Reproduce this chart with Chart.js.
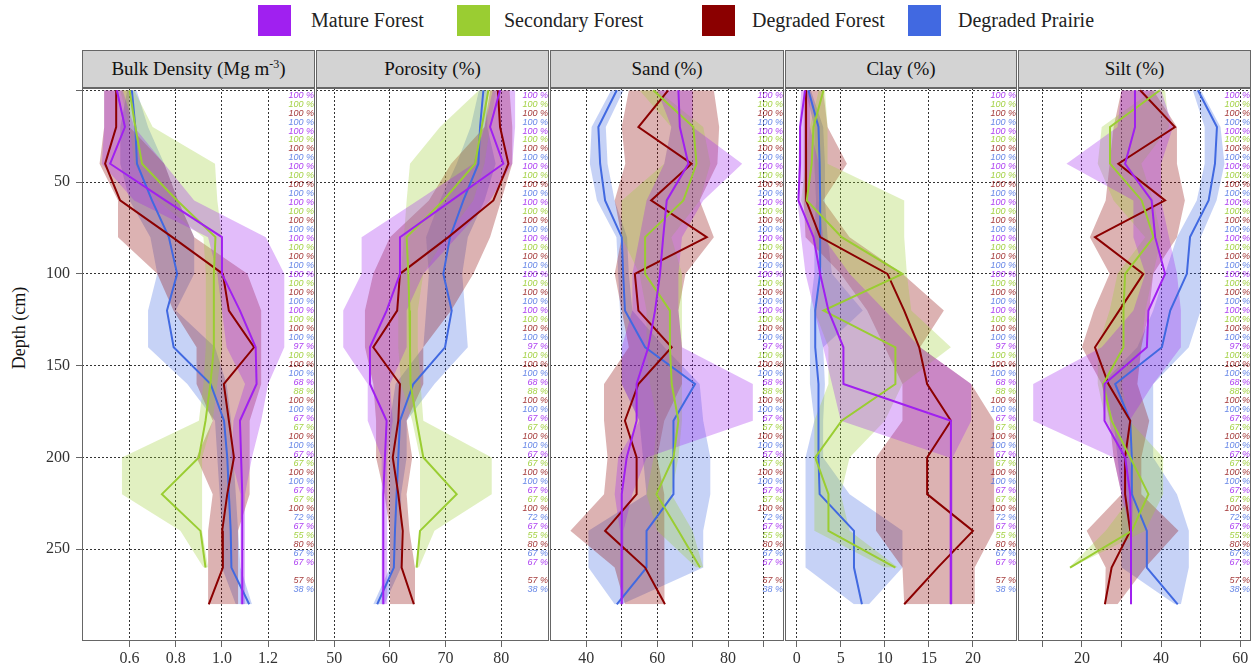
<!DOCTYPE html>
<html>
<head>
<meta charset="utf-8">
<script src="https://cdn.jsdelivr.net/npm/chart.js@4.4.1/dist/chart.umd.min.js"></script>
<style>
  body { margin: 0; width: 1255px; height: 672px; background: #fff; position: relative; overflow: hidden;
         font-family: "Liberation Serif", "Times New Roman", serif; }
  .swatch { position: absolute; top: 5px; width: 33px; height: 31px; }
  .legend-text { position: absolute; top: 7px; font-size: 20px; line-height: 26px; color: #222; white-space: nowrap; }
  .strip { position: absolute; top: 50px; height: 38px; background: #d3d3d3; border: 1px solid #666; box-sizing: border-box;
           text-align: center; line-height: 36px; font-size: 19px; color: #111; }
  .strip sup { font-size: 12px; line-height: 0; vertical-align: 7px; }
  canvas { position: absolute; top: 88px; }
  #ytitle { position: absolute; left: 19px; top: 328px; transform: translate(-50%, -50%) rotate(-90deg); font-size: 18px; white-space: nowrap; color: #111; }
</style>
</head>
<body>
<div class="swatch" style="left:258px;background:#A020F0"></div><div class="legend-text" style="left:311px">Mature Forest</div>
<div class="swatch" style="left:457px;background:#9ACD32"></div><div class="legend-text" style="left:504px">Secondary Forest</div>
<div class="swatch" style="left:702px;background:#8B0000"></div><div class="legend-text" style="left:752px">Degraded Forest</div>
<div class="swatch" style="left:908px;background:#4169E1"></div><div class="legend-text" style="left:958px">Degraded Prairie</div>

<div class="strip" style="left:82px;width:233px">Bulk Density (Mg m<sup>-3</sup>)</div>
<div class="strip" style="left:316px;width:233px">Porosity (%)</div>
<div class="strip" style="left:550px;width:234px">Sand (%)</div>
<div class="strip" style="left:785px;width:232px">Clay (%)</div>
<div class="strip" style="left:1018px;width:233px">Silt (%)</div>
<div id="ytitle">Depth (cm)</div>

<canvas id="c0" width="315" height="584" style="left:0px"></canvas>
<canvas id="c1" width="233" height="584" style="left:316px"></canvas>
<canvas id="c2" width="234" height="584" style="left:550px"></canvas>
<canvas id="c3" width="232" height="584" style="left:785px"></canvas>
<canvas id="c4" width="233" height="584" style="left:1018px"></canvas>

<script>
// depths (cm) of every profile point
const depths = [0, 20, 40, 60, 80, 100, 120, 140, 160, 180, 200, 220, 240, 260, 280];
const depthTicks = [0, 50, 100, 150, 200, 250];

const seriesNames = ["Mature Forest", "Secondary Forest", "Degraded Forest", "Degraded Prairie"];
const seriesColors = ["#A020F0", "#9ACD32", "#8B0000", "#4169E1"];
const bandColors = ["rgba(160,32,240,0.3)", "rgba(154,205,50,0.3)", "rgba(139,0,0,0.3)", "rgba(65,105,225,0.3)"];
const labelColors = ["rgba(160,32,240,0.85)", "rgba(154,205,50,0.9)", "rgba(139,0,0,0.8)", "rgba(65,105,225,0.8)"];

// Bulk density (Mg m-3)
const bdMF   = [0.545, 0.58, 0.516, 0.755, 1.0, 1.0, 1.078, 1.146, 1.15, 1.078, 1.083, 1.088, 1.088, 1.088, 1.088];
const bdMFlo = [0.49, 0.49, 0.48, 0.62, 0.94, 0.98, 1.0, 1.02, 1.1, 1.05, 1.04, 1.08, 1.08, 1.08, 1.08];
const bdMFhi = [0.57, 0.62, 0.75, 0.88, 1.19, 1.27, 1.27, 1.27, 1.2, 1.17, 1.13, 1.1, 1.1, 1.1, 1.1];
const bdSF   = [0.60, 0.625, 0.654, 0.806, 0.972, 0.965, 0.965, 0.965, 0.95, 0.929, 0.9, 0.74, 0.907, 0.929, null];
const bdSFlo = [0.56, 0.60, 0.62, 0.72, 0.92, 0.93, 0.93, 0.93, 0.92, 0.90, 0.567, 0.567, 0.82, 0.92, null];
const bdSFhi = [0.62, 0.70, 0.97, 0.98, 1.0, 1.0, 1.0, 1.0, 0.98, 0.96, 0.914, 0.914, 0.914, 0.94, null];
const bdDF   = [0.542, 0.542, 0.494, 0.559, 0.785, 1.004, 1.03, 1.139, 1.008, 1.03, 1.052, 1.023, 1.001, 1.004, 0.943];
const bdDFlo = [0.49, 0.49, 0.47, 0.55, 0.55, 0.72, 0.79, 0.89, 0.89, 0.96, 0.89, 0.96, 0.94, 0.94, 0.94];
const bdDFhi = [0.60, 0.60, 0.75, 0.81, 0.88, 1.11, 1.17, 1.17, 1.17, 1.12, 1.12, 1.12, 1.07, 1.07, 1.07];
const bdDP   = [0.61, 0.625, 0.632, 0.697, 0.77, 0.806, 0.762, 0.791, 0.951, 1.009, 1.023, 1.03, 1.038, 1.041, 1.118];
const bdDPlo = [0.59, 0.56, 0.56, 0.60, 0.69, 0.72, 0.68, 0.68, 0.85, 0.97, 0.98, 0.99, 1.0, 1.0, 1.06];
const bdDPhi = [0.63, 0.68, 0.75, 0.81, 0.88, 0.88, 0.80, 0.97, 1.02, 1.04, 1.05, 1.06, 1.07, 1.08, 1.13];

// Porosity (%)
const poMF   = [79.8, 78, 80.4, 71.1, 61.8, 61.8, 59.4, 56.4, 56.4, 59.4, 59.1, 58.8, 58.8, 58.8, 58.8];
const poMFlo = [78.5, 77, 75, 65, 54.9, 54.9, 51.6, 51.6, 56, 56, 58.5, 58.5, 58.5, 58.5, 58.5];
const poMFhi = [82.5, 82.5, 82, 78, 72, 66, 63, 63, 60, 60.5, 59.5, 59.5, 59.5, 59.5, 59.5];
const poSF   = [77.7, 76.5, 75.3, 69.6, 63, 63.3, 63.5, 63.6, 63.7, 64.8, 66, 72, 65.4, 64.8, null];
const poSFlo = [76, 69, 63.6, 63, 62.5, 62, 61.5, 61.5, 62, 64, 65.4, 65.4, 65.4, 64.6, null];
const poSFhi = [79, 78, 77, 75, 70, 66, 65, 65, 65.5, 66, 78.3, 78.3, 68, 65.2, null];
const poDF   = [79.4, 79.8, 81.3, 78.6, 70.5, 61.8, 61.3, 57, 61.8, 61.5, 60.5, 61.5, 62.3, 62.1, 64.3];
const poDFlo = [78, 77, 71, 67, 60, 57, 55.5, 55.5, 57, 57.5, 57.5, 59, 60, 60, 60];
const poDFhi = [81.5, 82, 82, 80, 78, 75, 71, 66, 66, 63, 64, 63, 63.5, 64.5, 64.5];
const poDP   = [76.8, 76.2, 75.9, 73.2, 70.8, 69.6, 71.1, 69.9, 64.2, 61.8, 61.5, 61.2, 60.9, 60.7, 57.7];
const poDPlo = [76, 74.5, 72, 69, 66.5, 67, 66.5, 66, 61, 60, 60, 60, 60, 60, 57];
const poDPhi = [77.5, 77.5, 79, 77, 74, 73, 73.5, 74, 68, 63, 63, 62, 62, 62, 59];

// Sand (%)
const saMF   = [66, 66.4, 68.8, 62.7, 61.7, 60.8, 59.4, 57.5, 54.2, 54.2, 51.4, 50, 50, 50, 50];
const saMFlo = [60, 64, 62, 57, 55, 53, 53, 50, 50, 55, 49, 48, 49.5, 49.5, 49.5];
const saMFhi = [70, 70, 84, 73, 67, 66, 66, 67, 87, 87, 57, 53, 50.5, 50.5, 50.5];
const saSF   = [58.9, 70.2, 71.1, 67.4, 56.6, 56.6, 63.6, 63.6, 64.1, 66, 64.6, 59.8, 66, 72.1, null];
const saSFlo = [55, 64, 62, 50, 50, 55, 57, 57, 58, 60, 59, 57, 60, 71, null];
const saSFhi = [60, 73, 75, 72, 64, 67, 67, 67, 67, 67, 66, 64, 70, 73, null];
const saDF   = [63.1, 54.7, 69.7, 58.3, 74, 53.7, 54.7, 64.1, 54.7, 50.9, 54.2, 54.2, 45.3, 56.6, 62.2];
const saDFlo = [52, 50, 51, 48, 50, 48, 50, 52, 45, 45, 46, 45, 35.5, 48, 50.9];
const saDFhi = [76, 77.5, 77, 72, 76, 68, 66, 67, 67, 62, 60, 62, 62, 62, 62.2];
const saDP   = [48.6, 43.4, 43.9, 45.3, 50, 50.4, 50.9, 56.6, 70.7, 64.6, 64.6, 64.6, 57, 57, 48.6];
const saDPlo = [47, 41.5, 41, 43, 48.5, 49, 49.5, 50, 50, 55, 56, 57, 40.6, 40.6, 48];
const saDPhi = [50.5, 45.5, 46, 48, 51.5, 52, 53, 62, 72, 73, 75, 75, 73, 73, 50];

// Clay (%)
const clMF   = [0.95, 0.38, 0.38, 0.19, 1.9, 2.66, 3.6, 5.3, 5.3, 17.5, 17.5, 17.5, 17.5, 17.5, 17.5];
const clMFlo = [0.5, 0.3, 0.2, 0.1, 0.5, 1, 2, 3, 4, 5, 17.3, 17.3, 17.3, 17.3, 17.3];
const clMFhi = [1.5, 1.5, 2.5, 2.5, 3, 6, 10, 14, 19.8, 19.8, 17.7, 17.7, 17.7, 17.7, 17.7];
const clSF   = [3.04, 1.9, 1.7, 1.14, 5.1, 12, 3.04, 11.2, 11.2, 5.1, 2.1, 3.6, 3.6, 11.2, null];
const clSFlo = [2.5, 1.5, 1, 0.5, 2, 3, 2, 3.6, 3.6, 2, 2, 2, 2, 10, null];
const clSFhi = [3.2, 3.5, 3.5, 12.2, 12.2, 12.5, 13, 17.5, 12, 10, 6, 5, 6, 11.5, null];
const clDF   = [1.06, 1.06, 1.06, 1.06, 2.66, 10.3, 12.2, 13.9, 14.8, 17.5, 14.8, 14.8, 20, 16, 12.2];
const clDFlo = [0.8, 0.8, 0.8, 0.8, 1, 5, 8, 10, 12, 12, 9, 9, 9, 12, 12.2];
const clDFhi = [3, 3.5, 5.7, 3, 6, 12, 16.7, 14, 19.8, 22.4, 22.4, 22.4, 22.4, 20.2, 20.2];
const clDP   = [1.33, 2.47, 2.6, 2.66, 2.66, 2.66, 2.1, 2.1, 2.47, 2.47, 2.47, 2.6, 6.5, 6.5, 7.4];
const clDPlo = [1, 2, 2, 2.2, 2, 2, 1.5, 1.5, 1.5, 2, 1, 1, 1, 1, 6.5];
const clDPhi = [1.6, 3, 3.2, 3.2, 3.5, 4, 7.5, 3, 3.2, 3, 3, 6, 12, 12, 8.2];

// Silt (%)
const siMF   = [33.4, 33.4, 30.9, 37.6, 38.5, 41, 36.8, 36.4, 25.7, 25.7, 30.9, 32.2, 32.4, 32.4, 32.4];
const siMFlo = [30, 29, 16.1, 33, 33, 36, 33, 25, 7.7, 7.7, 28, 30, 32.2, 32.2, 32.2];
const siMFhi = [40, 43, 40, 40, 42, 44, 45, 45, 38, 32, 32, 33, 32.6, 32.6, 32.6];
const siSF   = [39.7, 27.1, 27.1, 35.1, 38.1, 30.9, 30.5, 30.5, 25.4, 27.5, 32.2, 36.8, 32.6, 17, null];
const siSFlo = [38, 25, 24, 28, 36, 29, 27, 24, 24, 26, 32, 33, 26, 16.8, null];
const siSFhi = [41, 42, 35, 38, 40, 38, 36, 35, 30, 32, 40.5, 40.5, 36, 17.2, null];
const siDF   = [34.7, 43.5, 29.2, 41, 23.3, 35.5, 29.4, 23.3, 26.7, 32.2, 30.9, 30.9, 32.2, 27.5, 25.8];
const siDFlo = [30, 28, 27, 26, 22, 27, 23, 20, 25, 27, 28, 30, 21.2, 26, 25.8];
const siDFhi = [38, 44, 44, 46, 44, 38, 37, 35, 34, 37, 35, 35, 44.4, 36, 29];
const siDP   = [49.3, 54.1, 53.6, 52, 47.3, 46.5, 42.3, 40.2, 28.4, 32.2, 32.6, 32.6, 36.4, 36.4, 44.2];
const siDPlo = [48, 51, 51, 49, 44, 41, 38, 34, 25, 28, 29, 30, 30, 30, 43.5];
const siDPhi = [50, 55, 56, 54, 50, 50, 50, 47, 38, 38, 38, 44, 47, 47, 45];

// data coverage labels (% of samples), one value per 20 cm group
const pctMF = [100, 100, 100, 100, 100, 100, 100, 97, 68, 67, 67, 67, 67, 67];
const pctSF = [100, 100, 100, 100, 100, 100, 100, 100, 88, 67, 67, 67, 55, null];
const pctDF = [100, 100, 100, 100, 100, 100, 100, 100, 100, 100, 100, 100, 80, 57];
const pctDP = [100, 100, 100, 100, 100, 100, 100, 100, 100, 100, 100, 72, 67, 38];
const pctTop = 2.6, pctStep = 4.895;

const panels = [
  { id: "c0", series: [[bdMF, bdMFlo, bdMFhi], [bdSF, bdSFlo, bdSFhi], [bdDF, bdDFlo, bdDFhi], [bdDP, bdDPlo, bdDPhi]],
    min: 0.394, max: 1.403, ticks: [0.6, 0.8, 1.0, 1.2], labels: [0.6, 0.8, 1.0, 1.2], fmt: v => v.toFixed(1), yAxis: true },
  { id: "c1", series: [[poMF, poMFlo, poMFhi], [poSF, poSFlo, poSFhi], [poDF, poDFlo, poDFhi], [poDP, poDPlo, poDPhi]],
    min: 46.7, max: 88.6, ticks: [50, 60, 70, 80], labels: [50, 60, 70, 80], fmt: v => v },
  { id: "c2", series: [[saMF, saMFlo, saMFhi], [saSF, saSFlo, saSFhi], [saDF, saDFlo, saDFhi], [saDP, saDPlo, saDPhi]],
    min: 29.75, max: 95.8, ticks: [40, 50, 60, 70, 80, 90], labels: [40, 60, 80], fmt: v => v },
  { id: "c3", series: [[clMF, clMFlo, clMFhi], [clSF, clSFlo, clSFhi], [clDF, clDFlo, clDFhi], [clDP, clDPlo, clDPhi]],
    min: -1.33, max: 25.0, ticks: [0, 5, 10, 15, 20], labels: [0, 5, 10, 15, 20], fmt: v => v },
  { id: "c4", series: [[siMF, siMFlo, siMFhi], [siSF, siSFlo, siSFhi], [siDF, siDFlo, siDFhi], [siDP, siDPlo, siDPhi]],
    min: 3.86, max: 62.7, ticks: [10, 20, 30, 40, 50, 60], labels: [20, 40, 60], fmt: v => v }
];

function profile(values) {
  return depths.map((d, i) => ({ x: values[i], y: d })).filter(p => p.x != null);
}

const pctLabels = {
  id: "pctLabels",
  afterDatasetsDraw(chart) {
    const { ctx, chartArea, scales: { y } } = chart;
    ctx.save();
    ctx.font = 'italic 9px "Liberation Sans", Arial, sans-serif';
    ctx.textAlign = "right";
    ctx.textBaseline = "middle";
    [pctMF, pctSF, pctDF, pctDP].forEach((arr, s) => {
      arr.forEach((v, g) => {
        if (v == null) return;
        ctx.fillStyle = labelColors[s];
        ctx.fillText(v + " %", chartArea.right - 1, y.getPixelForValue(pctTop + (g * 4 + s) * pctStep));
      });
    });
    ctx.restore();
  }
};

const panelBorder = {
  id: "panelBorder",
  afterDraw(chart) {
    const { ctx, chartArea: a } = chart;
    ctx.save();
    ctx.strokeStyle = "#666";
    ctx.lineWidth = 1;
    ctx.strokeRect(a.left + 0.5, a.top + 0.5, a.right - a.left - 1, a.bottom - a.top - 1);
    ctx.restore();
  }
};

panels.forEach(p => {
  const datasets = [];
  p.series.forEach(([mean, lo, hi], s) => {
    datasets.push({ label: seriesNames[s] + " min", data: profile(lo), borderWidth: 0, pointRadius: 0, fill: false, order: 10 });
    datasets.push({ label: seriesNames[s] + " max", data: profile(hi), borderWidth: 0, pointRadius: 0, fill: "-1",
                    backgroundColor: bandColors[s], order: 10 });
  });
  p.series.forEach(([mean], s) => {
    datasets.push({ label: seriesNames[s], data: profile(mean), borderColor: seriesColors[s], borderWidth: 2,
                    pointRadius: 0, fill: false, tension: 0, order: 1 });
  });

  new Chart(document.getElementById(p.id), {
    type: "line",
    data: { datasets },
    options: {
      indexAxis: "y",
      responsive: false,
      animation: false,
      devicePixelRatio: 1,
      layout: { padding: 0, autoPadding: false },
      plugins: {
        legend: { display: false },
        tooltip: { enabled: false },
        filler: { drawTime: "beforeDatasetsDraw" }
      },
      scales: {
        x: {
          type: "linear",
          position: "bottom",
          min: p.min,
          max: p.max,
          afterBuildTicks: axis => { axis.ticks = p.ticks.map(v => ({ value: v })); },
          afterFit: axis => { axis.height = 31; axis.paddingLeft = 0; axis.paddingRight = 0; },
          ticks: {
            autoSkip: false,
            maxRotation: 0,
            padding: 2,
            color: "#333",
            font: { family: '"Liberation Serif", serif', size: 16 },
            callback: v => (p.labels.includes(v) ? p.fmt(v) : "")
          },
          grid: { color: "#333", lineWidth: 1, tickLength: 6, tickColor: "#666", tickBorderDash: [] },
          border: { display: false, dash: [2, 2] }
        },
        y: {
          type: "linear",
          reverse: true,
          min: -1.25,
          max: 300,
          afterBuildTicks: axis => { axis.ticks = depthTicks.map(v => ({ value: v })); },
          afterFit: axis => { axis.width = p.yAxis ? 82 : 0; axis.paddingTop = 0; axis.paddingBottom = 0; },
          ticks: {
            display: !!p.yAxis,
            padding: 6,
            color: "#333",
            font: { family: '"Liberation Serif", serif', size: 16 },
            callback: v => (v === 0 ? "" : v)
          },
          grid: { color: "#333", lineWidth: 1, drawTicks: !!p.yAxis, tickLength: 6, tickColor: "#666", tickBorderDash: [] },
          border: { display: false, dash: [2, 2] }
        }
      }
    },
    plugins: [pctLabels, panelBorder]
  });
});
</script>
</body>
</html>
